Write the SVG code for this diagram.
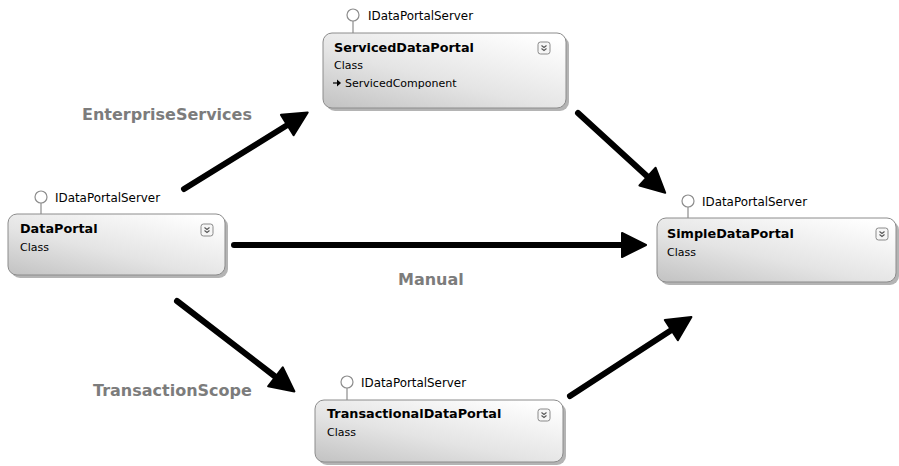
<svg xmlns="http://www.w3.org/2000/svg" width="899" height="466" viewBox="0 0 899 466">
<defs>
  <linearGradient id="boxg" x1="0" y1="1" x2="0.85" y2="0">
    <stop offset="0" stop-color="#c2c2c2"/>
    <stop offset="0.45" stop-color="#e4e4e4"/>
    <stop offset="1" stop-color="#ffffff"/>
  </linearGradient>
  <marker id="ah" markerUnits="userSpaceOnUse" markerWidth="30" markerHeight="30" viewBox="-2 -2 30 28" refX="2" refY="12" orient="auto">
    <path d="M0,0 L24,12 L0,24 z" fill="#000" stroke="#000" stroke-width="2" stroke-linejoin="round"/>
  </marker>
  <g id="exp">
    <rect x="0" y="0" width="12" height="12" rx="2.5" fill="#f6f6f6" stroke="#8a8a8a" stroke-width="1"/>
    <path d="M3.5,3.5 L6,5.5 L8.5,3.5 M3.5,6.5 L6,8.5 L8.5,6.5" fill="none" stroke="#555" stroke-width="1.1"/>
  </g>
</defs>
<style>
  .shadow { fill: #b4b4b4; }
  .box { fill: url(#boxg); stroke: #8c8c8c; stroke-width: 1; }
  .lolly { fill: #fff; stroke: #8c8c8c; stroke-width: 1.2; }
  .stem { stroke: #8c8c8c; stroke-width: 1.2; }
  .title { font-family: "DejaVu Sans", sans-serif; font-weight: bold; font-size: 12.8px; fill: #000; }
  .sub { font-family: "DejaVu Sans", sans-serif; font-size: 11px; fill: #000; }
  .iface { font-family: "DejaVu Sans", sans-serif; font-size: 11.9px; fill: #000; }
  .lbl { font-family: "DejaVu Sans", sans-serif; font-weight: bold; font-size: 16px; fill: #7c7c7c; }
  .conn { stroke: #000; stroke-width: 6; stroke-linecap: round; fill: none; marker-end: url(#ah); }
</style>
<rect width="899" height="466" fill="#fff"/>

<g id="connectors">
  <line class="conn" x1="184" y1="189" x2="289" y2="124"/>
  <line class="conn" x1="578" y1="113" x2="649" y2="178"/>
  <line class="conn" x1="234" y1="245" x2="624" y2="245"/>
  <line class="conn" x1="177" y1="301" x2="277" y2="378"/>
  <line class="conn" x1="570" y1="396" x2="673" y2="329"/>
</g>

<g id="labels">
  <text class="lbl" x="82" y="120">EnterpriseServices</text>
  <text class="lbl" x="398" y="285">Manual</text>
  <text class="lbl" x="93" y="396">TransactionScope</text>
</g>

<g id="ServicedDataPortal">
  <rect class="shadow" x="326" y="36" width="243" height="75" rx="9"/>
  <rect class="box" x="323" y="33" width="243" height="75" rx="9"/>
  <line class="stem" x1="353" y1="21" x2="353" y2="33"/>
  <circle class="lolly" cx="353" cy="15" r="6"/>
  <text class="iface" x="368" y="19.5">IDataPortalServer</text>
  <text class="title" x="334" y="52">ServicedDataPortal</text>
  <text class="sub" x="334" y="69">Class</text>
  <path d="M333,83 L338,83" stroke="#000" stroke-width="1.2"/>
  <path d="M337,79.5 L341,83 L337,86.5 z" fill="#000"/>
  <text class="sub" x="345" y="87">ServicedComponent</text>
  <use href="#exp" x="538" y="42"/>
</g>

<g id="DataPortal">
  <rect class="shadow" x="11" y="217" width="217" height="61" rx="9"/>
  <rect class="box" x="8" y="214" width="217" height="61" rx="9"/>
  <line class="stem" x1="41" y1="203" x2="41" y2="214"/>
  <circle class="lolly" cx="41" cy="197" r="6"/>
  <text class="iface" x="55" y="201.5">IDataPortalServer</text>
  <text class="title" x="20" y="233">DataPortal</text>
  <text class="sub" x="20" y="251">Class</text>
  <use href="#exp" x="201" y="224"/>
</g>

<g id="SimpleDataPortal">
  <rect class="shadow" x="660" y="221" width="239" height="64" rx="9"/>
  <rect class="box" x="657" y="218" width="239" height="64" rx="9"/>
  <line class="stem" x1="688" y1="207" x2="688" y2="218"/>
  <circle class="lolly" cx="688" cy="201" r="6"/>
  <text class="iface" x="702" y="205.5">IDataPortalServer</text>
  <text class="title" x="667" y="238">SimpleDataPortal</text>
  <text class="sub" x="667" y="256">Class</text>
  <use href="#exp" x="876" y="228"/>
</g>

<g id="TransactionalDataPortal">
  <rect class="shadow" x="318" y="403" width="248" height="62" rx="9"/>
  <rect class="box" x="315" y="400" width="248" height="62" rx="9"/>
  <line class="stem" x1="347" y1="388" x2="347" y2="400"/>
  <circle class="lolly" cx="347" cy="382" r="6"/>
  <text class="iface" x="361" y="386.5">IDataPortalServer</text>
  <text class="title" x="327" y="418">TransactionalDataPortal</text>
  <text class="sub" x="327" y="436">Class</text>
  <use href="#exp" x="538" y="409"/>
</g>
</svg>
